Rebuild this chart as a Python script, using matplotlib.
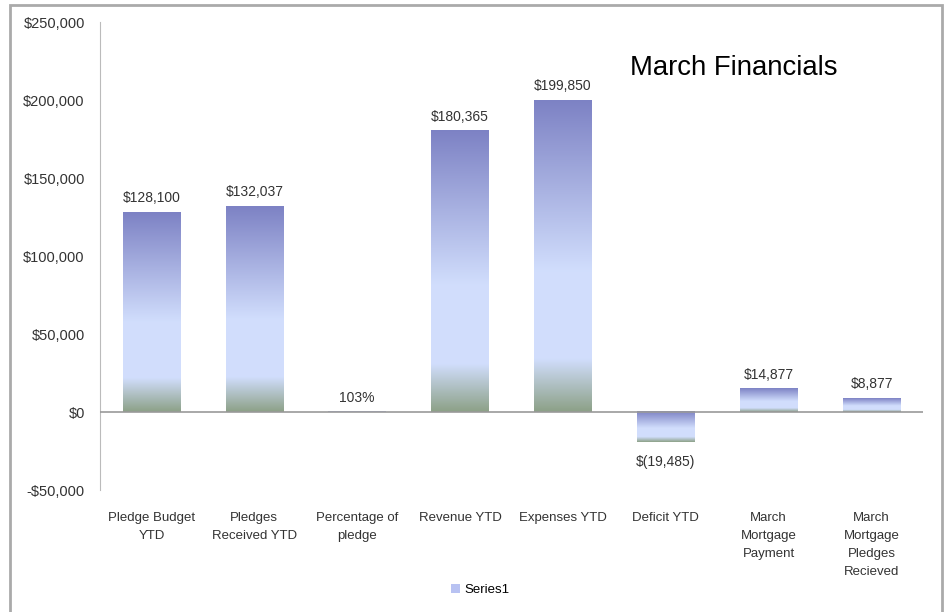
import matplotlib.pyplot as plt
import numpy as np
from matplotlib.colors import LinearSegmentedColormap
from matplotlib.patches import Rectangle, Patch

categories = ["Pledge Budget\nYTD", "Pledges\nReceived YTD", "Percentage of\npledge",
              "Revenue YTD", "Expenses YTD", "Deficit YTD",
              "March\nMortgage\nPayment", "March\nMortgage\nPledges\nRecieved"]
values = [128100, 132037, 1.03, 180365, 199850, -19485, 14877, 8877]
labels = ["$128,100", "$132,037", "103%", "$180,365", "$199,850", "$(19,485)", "$14,877", "$8,877"]
yticks = [-50000, 0, 50000, 100000, 150000, 200000, 250000]
ytick_labels = ["-$50,000", "$0", "$50,000", "$100,000", "$150,000", "$200,000", "$250,000"]

plt.rcParams['font.family'] = ['Liberation Sans', 'DejaVu Sans']

grad = LinearSegmentedColormap.from_list("bar", [
    (0.0, (0.55, 0.63, 0.53)),
    (0.17, (0.82, 0.87, 0.99)),
    (0.45, (0.82, 0.87, 0.99)),
    (1.0, (0.49, 0.51, 0.77)),
])

fig = plt.figure(figsize=(9.46, 6.12), dpi=100)
ax = fig.add_axes([100 / 946, 1 - 490 / 612, 823 / 946, 468 / 612])

x = np.arange(len(values))
bars = ax.bar(x, values, width=0.56, color="none")
g = np.linspace(0, 1, 256).reshape(-1, 1)
for b in bars:
    x0 = b.get_x()
    y0 = b.get_y()
    h = b.get_height()
    lo, hi = min(y0, y0 + h), max(y0, y0 + h)
    ax.imshow(g, cmap=grad, origin="lower", aspect="auto",
              extent=[x0, x0 + b.get_width(), lo, hi], zorder=2)

for xi, v, t in zip(x, values, labels):
    if v >= 0:
        ax.annotate(t, (xi, v), xytext=(0, 5), textcoords="offset points",
                    ha="center", va="bottom", fontsize=10, color="#333333")
    else:
        ax.annotate(t, (xi, v), xytext=(0, -9), textcoords="offset points",
                    ha="center", va="top", fontsize=10, color="#333333")

ax.set_xlim(-0.5, len(values) - 0.5)
ax.set_ylim(-50000, 250000)
ax.set_yticks(yticks)
ax.set_yticklabels(ytick_labels, fontsize=10.5, color="#333333")
ax.set_xticks(x)
ax.set_xticklabels(categories, fontsize=9.5, color="#333333", linespacing=1.65)
ax.tick_params(axis="both", length=0)
ax.tick_params(axis="x", pad=16)
ax.tick_params(axis="y", pad=11)
for s in ["top", "right", "bottom"]:
    ax.spines[s].set_visible(False)
ax.spines["left"].set_color("#bbbbbb")
ax.axhline(0, color="#999999", lw=1.2, zorder=3)

fig.text(734 / 946, 1 - 68 / 612, "March Financials", fontsize=19.8,
         ha="center", va="center")

leg_patch = Patch(facecolor=(0.72, 0.76, 0.95), edgecolor="none")
fig.legend([leg_patch], ["Series1"], loc="center", bbox_to_anchor=(480 / 946, 1 - 590 / 612),
           frameon=False, fontsize=9.5, handlelength=0.7, handleheight=0.7, handletextpad=0.3)

fig.patches.append(Rectangle((10 / 946, -0.05), 932 / 946, 1.05 - 5 / 612,
                             transform=fig.transFigure, fill=False,
                             edgecolor="#aaaaaa", lw=2))

fig.savefig("out.png", dpi=100)
